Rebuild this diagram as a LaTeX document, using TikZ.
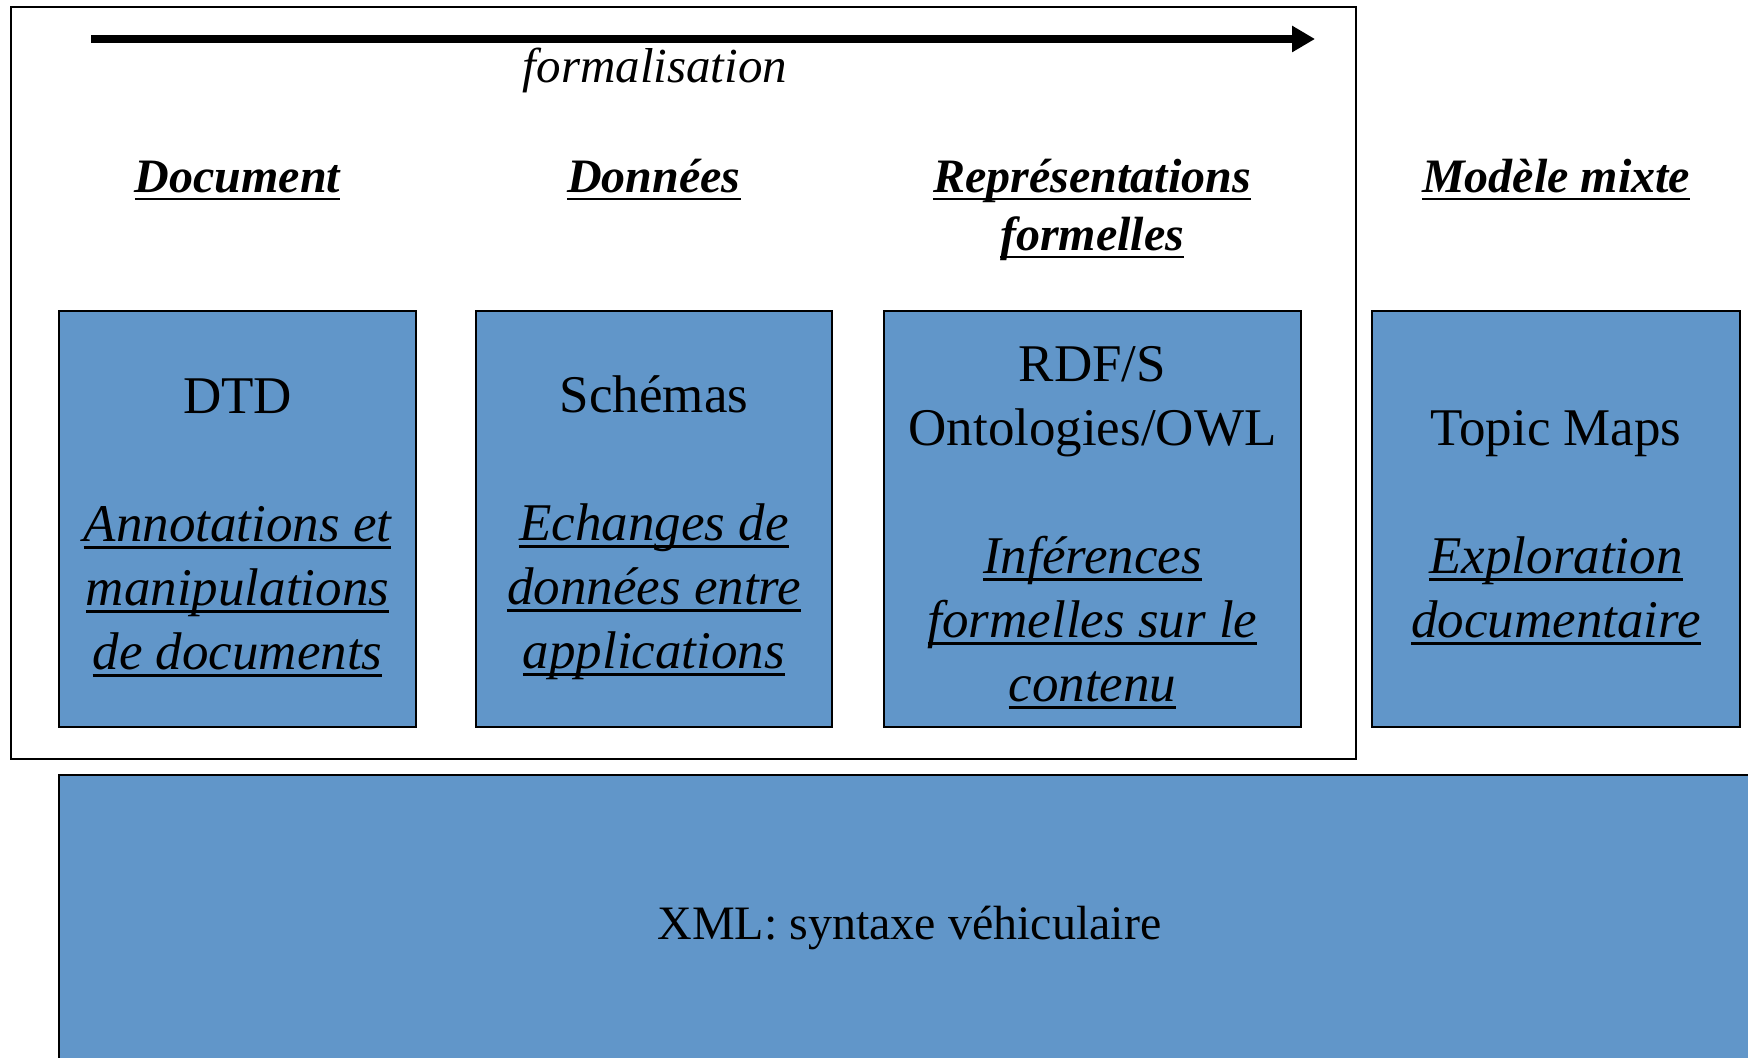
\documentclass[tikz,border=0pt]{standalone}
\usepackage{fontspec}
\setmainfont{Liberation Serif}
\usetikzlibrary{arrows.meta}
\definecolor{bleu}{RGB}{97,150,201}
\newcommand{\souligne}[1]{\begingroup\setbox0\hbox{#1}\rlap{\rule[-3.7pt]{\wd0}{1.4pt}}\box0\endgroup}
\newcommand{\usage}[1]{\souligne{\itshape #1}}
\tikzset{
    bloc/.style={draw, line width=1.2pt, fill=bleu, minimum height=208pt, inner sep=0pt},
    texte/.style={align=center, inner sep=0pt, font=\fontsize{26.5}{32}\selectfont},
    titre/.style={anchor=base, align=center, font=\fontsize{24}{29}\selectfont\bfseries\itshape},
}
\begin{document}
\begin{tikzpicture}[x=0.5pt,y=-0.5pt]
    \path[use as bounding box, clip] (0,0) rectangle (1748,1058);
    \draw[line width=1pt] (11,7) rectangle (1356,759);
    \coordinate (debut) at (91,39);
    \coordinate (fin) at (1315,39);
    \draw[line width=4pt, -{Triangle[length=11.5pt, width=12.5pt]}] (debut) -- (fin);
    \node[anchor=base, font=\fontsize{24.5}{30}\selectfont\itshape] (formalisation) at (655,83) {formalisation};
    \node[titre] (tdoc) at (237.5,193) {\souligne{Document}};
    \node[titre] (tdon) at (654,193) {\souligne{Données}};
    \node[titre] (trep) at (1092,251) {\souligne{Représentations}\\\souligne{formelles}};
    \node[titre] (tmix) at (1556,193) {\souligne{Modèle mixte}};
    \node[bloc, minimum width=178.5pt] (dtd) at (237.5,519) {};
    \node[bloc, minimum width=178pt] (schemas) at (654,519) {};
    \node[bloc, minimum width=208.5pt] (rdf) at (1092.5,519) {};
    \node[bloc, minimum width=184pt] (topic) at (1556,519) {};
    \node[texte] (tdtd) at ([yshift=-4.5pt]dtd.center)
        {DTD\\[32pt]\usage{Annotations et}\\\usage{manipulations}\\\usage{de documents}};
    \node[texte] (tschemas) at ([yshift=-4.5pt]schemas.center)
        {Schémas\\[32pt]\usage{Echanges de}\\\usage{données entre}\\\usage{applications}};
    \node[texte] (trdf) at ([yshift=-4.5pt]rdf.center)
        {RDF/S\\Ontologies/OWL\\[32pt]\usage{Inférences}\\\usage{formelles sur le}\\\usage{contenu}};
    \node[texte] (ttopic) at ([yshift=-4.5pt]topic.center)
        {Topic Maps\\[32pt]\usage{Exploration}\\\usage{documentaire}};
    \node[bloc, minimum width=850.5pt, minimum height=147pt] (xml) at (909.5,922) {};
    \node[texte, font=\fontsize{24}{29}\selectfont] (txml) at ([yshift=-2.8pt]xml.center)
        {XML: syntaxe véhiculaire};
\end{tikzpicture}
\end{document}
